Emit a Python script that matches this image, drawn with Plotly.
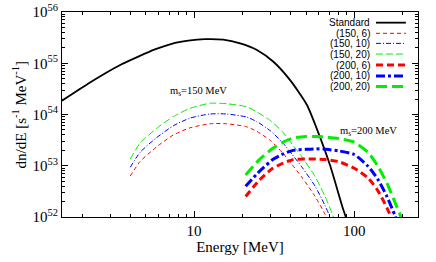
import plotly.graph_objects as go

# ---- data ----
E_std = [1.5, 2.18, 2.78, 3.53, 4.49, 5.70, 7.26, 9.2, 11.7, 15.2, 19.4, 24.7, 31.3, 39.8, 50.6, 58.5, 70.8, 85.7, 95]
Y_std = [1.86e54, 3.98e54, 6.31e54, 9.55e54, 1.35e55, 1.86e55, 2.40e55, 2.75e55, 2.95e55, 2.88e55,
         2.45e55, 1.82e55, 1.07e55, 4.68e54, 1.55e54, 5.2e53, 1.0e53, 1.35e52, 5.5e51]

E_150 = [4.0, 4.6, 5.85, 7.43, 9.44, 12.6, 16, 21.3, 24.7, 30, 36, 41, 47, 57, 65.8, 72.5, 75]
logY_150_6 = [52.80, 53.08, 53.37, 53.60, 53.74, 53.82, 53.82, 53.76, 53.67, 53.49, 53.24, 53.02, 52.78, 52.40, 52.05, 51.75, 51.65]
logY_150_10 = [52.97, 53.26, 53.55, 53.78, 53.93, 54.01, 54.01, 53.95, 53.86, 53.68, 53.44, 53.22, 52.98, 52.60, 52.22, 51.92, 51.80]
logY_150_20 = [53.13, 53.44, 53.73, 53.96, 54.12, 54.22, 54.21, 54.15, 54.05, 53.88, 53.65, 53.42, 53.18, 52.79, 52.40, 52.08, 51.95]

E_200 = [21, 25.6, 31, 36, 41.5, 50, 58, 66.8, 80, 100, 122, 140, 160, 180, 200, 210]
logY_200_6 = [52.40, 52.72, 52.95, 53.05, 53.12, 53.13, 53.13, 53.12, 53.08, 52.95, 52.76, 52.52, 52.18, 51.80, 51.40, 51.2]
logY_200_10 = [52.60, 52.89, 53.12, 53.23, 53.30, 53.32, 53.33, 53.32, 53.29, 53.22, 52.99, 52.74, 52.40, 52.02, 51.60, 51.4]
logY_200_20 = [52.82, 53.12, 53.34, 53.46, 53.54, 53.57, 53.57, 53.56, 53.53, 53.46, 53.26, 53.00, 52.66, 52.28, 51.93, 51.75]

series_names = ["Standard", "(150, 6)", "(150, 10)", "(150, 20)", "(200, 6)", "(200, 10)", "(200, 20)"]

y_tick_vals = [1e52, 1e53, 1e54, 1e55, 1e56]
y_tick_text = ["10<sup>52</sup>", "10<sup>53</sup>", "10<sup>54</sup>", "10<sup>55</sup>", "10<sup>56</sup>"]
x_tick_vals = [10, 100]
x_tick_text = ["10", "100"]

# ---- styles ----
styles = [
    dict(color="black", width=1.8, dash="solid"),
    dict(color="#ff0000", width=1, dash="4px,3px"),
    dict(color="#0000ff", width=1, dash="5px,2px,1px,2px"),
    dict(color="#00ee00", width=1, dash="7px,3px"),
    dict(color="#ff0000", width=3, dash="7px,4px"),
    dict(color="#0000ff", width=3, dash="9px,3px,3px,3px"),
    dict(color="#00ee00", width=3, dash="11px,5px"),
]

def tolin(lst):
    return [10.0 ** v for v in lst]

xs = [E_std, E_150, E_150, E_150, E_200, E_200, E_200]
ys = [Y_std, tolin(logY_150_6), tolin(logY_150_10), tolin(logY_150_20),
      tolin(logY_200_6), tolin(logY_200_10), tolin(logY_200_20)]

fig = go.Figure()
for name, x, y, st in zip(series_names, xs, ys, styles):
    fig.add_trace(go.Scatter(x=x, y=y, mode="lines", name=name, line=dict(**st, shape="spline", smoothing=0.6),
                             showlegend=False, cliponaxis=True, hoverinfo="skip"))

serif = "Liberation Serif"
sans = "Liberation Sans"

# custom legend: text on the left, sample on the right
row_y = [0.948, 0.896, 0.847, 0.795, 0.741, 0.688, 0.636]
for name, st, yy in zip(series_names, styles, row_y):
    fig.add_annotation(x=0.872, y=yy, xref="paper", yref="paper", text=name, showarrow=False,
                       xanchor="right", yanchor="middle", font=dict(family=sans, size=10, color="black"))
    fig.add_shape(type="line", xref="paper", yref="paper", x0=0.882, x1=0.966, y0=yy, y1=yy,
                  line=dict(color=st["color"], width=st["width"], dash=st["dash"]))

fig.add_annotation(x=1.03, y=54.44, xref="x", yref="y", text="m<sub>s</sub>=150 MeV", showarrow=False,
                   font=dict(family=serif, size=10.5, color="black"))
fig.add_annotation(x=2.0875, y=53.67, xref="x", yref="y", text="m<sub>s</sub>=200 MeV", showarrow=False,
                   font=dict(family=serif, size=10.5, color="black"))

# y-axis title as rotated annotation
fig.add_annotation(x=-0.121, y=0.5, xref="paper", yref="paper", textangle=-90, showarrow=False,
                   text="dn/dE [s<sup>-1</sup> MeV<sup>-1</sup>]", xanchor="center", yanchor="middle",
                   font=dict(family=serif, size=15, color="black"))

minor_x = [2, 3, 4, 5, 6, 7, 8, 9, 20, 30, 40, 50, 60, 70, 80, 90, 200]
minor_y = [float(m) * 10.0 ** d for d in range(52, 56) for m in range(2, 10)]

fig.update_xaxes(type="log", range=[0.176, 2.398], tickvals=x_tick_vals, ticktext=x_tick_text,
                 ticks="inside", ticklen=6, tickcolor="black", mirror="ticks", showline=True,
                 linecolor="black", linewidth=1.2, showgrid=False, zeroline=False, automargin=False,
                 tickfont=dict(family=serif, size=15, color="black"),
                 minor=dict(tickvals=minor_x, ticks="inside", ticklen=3, tickcolor="black", showgrid=False),
                 title=dict(text="Energy [MeV]", font=dict(family=serif, size=15, color="black"), standoff=3))
fig.update_yaxes(type="log", range=[52, 56], tickvals=y_tick_vals, ticktext=y_tick_text,
                 ticks="inside", ticklen=6, tickcolor="black", mirror="ticks", showline=True,
                 linecolor="black", linewidth=1.2, showgrid=False, zeroline=False, automargin=False,
                 tickfont=dict(family=serif, size=15, color="black"),
                 minor=dict(tickvals=minor_y, ticks="inside", ticklen=3, tickcolor="black", showgrid=False))

fig.update_layout(width=436, height=262, margin=dict(l=62, r=18, t=12, b=45),
                  paper_bgcolor="white", plot_bgcolor="white", showlegend=False)

fig.write_html("out.html", config={"displayModeBar": False},
               post_script="document.body.style.margin='0';")
